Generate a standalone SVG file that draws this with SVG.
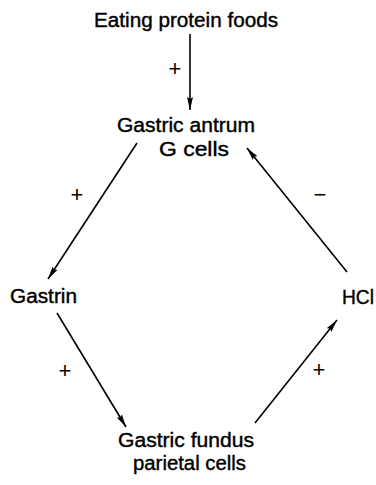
<svg xmlns="http://www.w3.org/2000/svg" width="376" height="485" viewBox="0 0 376 485">
<defs>
<marker id="arr" markerUnits="userSpaceOnUse" markerWidth="14" markerHeight="7" refX="13" refY="3" orient="auto" viewBox="0 0 14 6">
<path d="M0,0 L13,3 L0,6 L2,3 z" fill="#000"/>
</marker>
<style>
.lbl{font-family:"Liberation Sans",Arial,Helvetica,sans-serif;font-size:20px;fill:#000;stroke:#000;stroke-width:0.4}
.sgn{font-family:"Liberation Sans",Arial,sans-serif;font-size:22px;fill:#000;text-anchor:middle}
.edge{stroke:#000;stroke-width:1.6;fill:none;marker-end:url(#arr)}
</style>
</defs>
<rect width="376" height="485" fill="#fff"/>
<g id="connectors">
<line class="edge" x1="190" y1="34" x2="190" y2="110"/>
<line class="edge" x1="137" y1="143" x2="48" y2="279"/>
<line class="edge" x1="57" y1="313" x2="126" y2="427"/>
<line class="edge" x1="255" y1="423" x2="337" y2="320"/>
<line class="edge" x1="347" y1="272" x2="247" y2="148"/>
<text class="sgn" x="175" y="76">+</text>
<text class="sgn" x="77" y="202">+</text>
<text class="sgn" x="65" y="378">+</text>
<text class="sgn" x="319" y="377">+</text>
<text class="sgn" x="320" y="202">−</text>
</g>
<g id="node-food"><text class="lbl" x="94" y="27" textLength="184" lengthAdjust="spacingAndGlyphs">Eating protein foods</text></g>
<g id="node-antrum">
<text class="lbl" x="117" y="132" textLength="138" lengthAdjust="spacingAndGlyphs">Gastric antrum</text>
<text class="lbl" x="159" y="156" textLength="70" lengthAdjust="spacingAndGlyphs">G cells</text>
</g>
<g id="node-gastrin"><text class="lbl" x="10" y="303" textLength="67" lengthAdjust="spacingAndGlyphs">Gastrin</text></g>
<g id="node-hcl"><text class="lbl" x="342" y="304" textLength="32" lengthAdjust="spacingAndGlyphs">HCl</text></g>
<g id="node-fundus">
<text class="lbl" x="118" y="447" textLength="136" lengthAdjust="spacingAndGlyphs">Gastric fundus</text>
<text class="lbl" x="133" y="470" textLength="113" lengthAdjust="spacingAndGlyphs">parietal cells</text>
</g>
</svg>
